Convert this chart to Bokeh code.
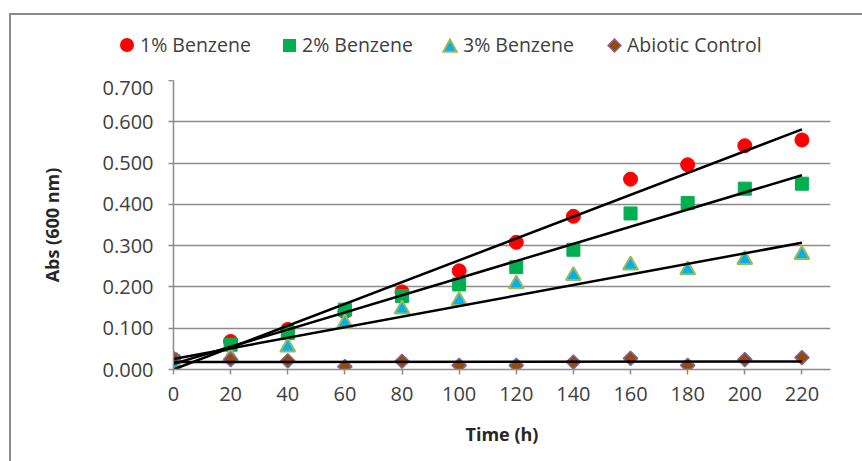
import numpy as np
from bokeh.plotting import figure
from bokeh.layouts import column
from bokeh.models import (Div, FixedTicker, NumeralTickFormatter, Range1d)
from bokeh.embed import file_html
from bokeh.resources import INLINE

# ---- data ----
time_h = [0, 20, 40, 60, 80, 100, 120, 140, 160, 180, 200, 220]
benz1 = [0.025, 0.068, 0.097, 0.140, 0.188, 0.239, 0.308, 0.371, 0.461, 0.496, 0.542, 0.556]
benz2 = [0.020, 0.060, 0.088, 0.145, 0.178, 0.206, 0.248, 0.290, 0.378, 0.403, 0.438, 0.450]
benz3 = [0.015, 0.030, 0.054, 0.112, 0.146, 0.167, 0.207, 0.227, 0.253, 0.241, 0.266, 0.278]
abiotic = [0.027, 0.024, 0.021, 0.007, 0.020, 0.010, 0.010, 0.018, 0.027, 0.010, 0.024, 0.029]
series_labels = ["1% Benzene", "2% Benzene", "3% Benzene", "Abiotic Control"]
x_ticks = [0, 20, 40, 60, 80, 100, 120, 140, 160, 180, 200, 220]
y_ticks = [0.0, 0.1, 0.2, 0.3, 0.4, 0.5, 0.6, 0.7]

FONT = "Open Sans"
GRID = "#8c8c8c"
TXT = "#404040"
BORDER = "#8a8a8a"

# marker styles per series
styles_ = [
    dict(marker="circle", size=14, fill_color="#ff0000", line_color="#ff0000", line_width=1),
    dict(marker="square", size=13, fill_color="#00b050", line_color="#00b050", line_width=1),
    dict(marker="triangle", size=15, fill_color="#00b0f0", line_color="#9bbb59", line_width=2),
    dict(marker="square", angle=np.pi / 4, size=10, fill_color="#984807",
         line_color="#8064a2", line_width=1.5),
]

# ---------- legend strip (HTML, above the chart) ----------
legend_svgs = [
    '<svg width="14" height="14"><circle cx="7" cy="7" r="7" fill="#ff0000"/></svg>',
    '<svg width="13" height="13"><rect x="0" y="0" width="13" height="13" fill="#00b050"/></svg>',
    '<svg width="16" height="15"><polygon points="8,1.5 14.8,13.8 1.2,13.8" fill="#00b0f0" '
    'stroke="#9bbb59" stroke-width="2"/></svg>',
    '<svg width="15" height="15"><polygon points="7.5,1 14,7.5 7.5,14 1,7.5" fill="#984807" '
    'stroke="#8064a2" stroke-width="1.5"/></svg>',
]
glyph_centers = [127, 289, 450, 614]
parts = []
for svg, cx, lab in zip(legend_svgs, glyph_centers, series_labels):
    parts.append(f'<div style="position:absolute;left:{cx - 8}px;top:37px;width:16px;height:16px;'
                 f'display:flex;align-items:center;justify-content:center;">{svg}</div>')
    parts.append(f'<div style="position:absolute;left:{cx + 13}px;top:34px;line-height:22px;'
                 f'font-family:\'{FONT}\';font-size:19.5px;color:{TXT};white-space:nowrap;">{lab}</div>')
legend_html = ('<div style="position:relative;width:862px;height:80px;">' + "".join(parts) + '</div>')
leg = Div(text=legend_html, width=862, height=80, margin=(0, 0, 0, 0))

# ---------- main chart ----------
p = figure(width=862, height=381, output_backend="svg", toolbar_location=None,
           x_range=Range1d(0, 230), y_range=Range1d(0, 0.7),
           min_border_left=173, min_border_right=32, min_border_top=0,
           min_border_bottom=92)
p.outline_line_color = None
p.background_fill_color = "white"
p.border_fill_color = None

p.xgrid.grid_line_color = None
p.ygrid.grid_line_color = GRID
p.ygrid.grid_line_width = 1.5

for ax in (p.xaxis[0], p.yaxis[0]):
    ax.axis_line_color = GRID
    ax.axis_line_width = 1.5
    ax.major_tick_line_color = GRID
    ax.major_tick_line_width = 1.5
    ax.major_tick_out = 5
    ax.major_tick_in = 0
    ax.minor_tick_line_color = None
    ax.major_label_text_font = FONT
    ax.major_label_text_font_size = "20px"
    ax.major_label_text_color = TXT
    ax.axis_label_text_font = FONT
    ax.axis_label_text_font_size = "18px"
    ax.axis_label_text_font_style = "bold"
    ax.axis_label_text_color = "#262626"

p.xaxis.ticker = FixedTicker(ticks=x_ticks)
p.yaxis.ticker = FixedTicker(ticks=y_ticks)
p.yaxis.formatter = NumeralTickFormatter(format="0.000")
p.xaxis.axis_label = "Time (h)"
p.yaxis.axis_label = "Abs (600 nm)"
p.xaxis.major_label_standoff = 12
p.xaxis.axis_label_standoff = 18
p.yaxis.major_label_standoff = 15
p.yaxis.axis_label_standoff = 36

renderers = [p.scatter(time_h, ys, **s)
             for ys, s in zip((benz1, benz2, benz3, abiotic), styles_)]

# linear trendlines (least squares fit of each series)
xs = np.array(time_h, dtype=float)
for ys in (benz1, benz2, benz3, abiotic):
    m, b = np.polyfit(xs, np.array(ys), 1)
    p.line([xs[0], xs[-1]], [m * xs[0] + b, m * xs[-1] + b], line_color="black", line_width=2.5)

border_css = (f"linear-gradient({BORDER}, {BORDER}) 9px 13px / 2px 100% no-repeat, "
              f"linear-gradient({BORDER}, {BORDER}) 9px 13px / 100% 2px no-repeat, #ffffff")
layout = column(leg, p, spacing=0, styles={"background": border_css})

open("out.html", "w").write(file_html(layout, INLINE))
